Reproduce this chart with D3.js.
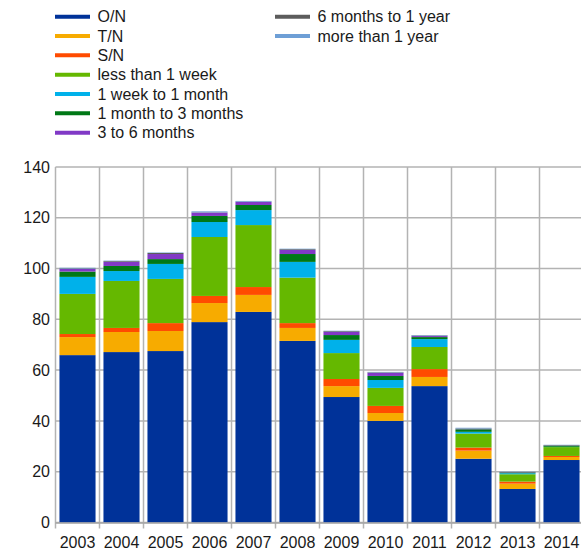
<!DOCTYPE html>
<html>
<head>
<meta charset="utf-8">
<script src="https://cdn.jsdelivr.net/npm/d3@7"></script>
<style>
  body { margin: 0; background: #fff; }
  text { font-family: 'Liberation Sans', Arial, sans-serif; fill: #1a1a1a; }
</style>
</head>
<body>
<div class="graph-container"></div>
<script>
// data
const years = ['2003', '2004', '2005', '2006', '2007', '2008', '2009', '2010', '2011', '2012', '2013', '2014'];
const seriesNames = ['O/N', 'T/N', 'S/N', 'less than 1 week', '1 week to 1 month',
  '1 month to 3 months', '3 to 6 months', '6 months to 1 year', 'more than 1 year'];
const on = [65.9, 67.1, 67.5, 78.9, 82.9, 71.5, 49.4, 40.0, 53.7, 25.1, 13.2, 24.6];
const tn = [7.1, 7.9, 7.9, 7.5, 6.7, 5.1, 4.3, 3.1, 3.6, 3.2, 2.1, 1.2];
const sn = [1.2, 1.6, 3.1, 2.8, 3.1, 1.9, 2.8, 2.8, 3.1, 1.2, 0.8, 0.4];
const lessWeek = [15.8, 18.5, 17.4, 23.2, 24.4, 17.9, 10.2, 7.1, 8.7, 5.5, 2.9, 3.5];
const weekMonth = [6.7, 3.9, 5.9, 5.9, 5.9, 6.2, 5.2, 3.1, 3.1, 0.7, 0.4, 0.1];
const month1to3 = [2.1, 2.0, 1.9, 2.4, 2.0, 3.1, 1.9, 1.6, 0.8, 1.0, 0.3, 0.5];
const month3to6 = [1.0, 1.6, 2.0, 1.3, 1.2, 1.6, 1.2, 1.2, 0.4, 0.1, 0.1, 0.1];
const month6to12 = [0.2, 0.3, 0.4, 0.1, 0.1, 0.3, 0.3, 0.2, 0.2, 0.2, 0.1, 0.1];
const overYear = [0.3, 0.2, 0.2, 0.4, 0.3, 0.2, 0.2, 0.2, 0.2, 0.3, 0.1, 0.1];
const yTicks = [0, 20, 40, 60, 80, 100, 120, 140];

const colors = ['#003299', '#f7ab00', '#ff4b00', '#65b800', '#00b1ea',
  '#007816', '#8139c6', '#5c5c5c', '#6e9fd6'];

// svg parameters
const w = 581;
const h = 554;

const svg = d3.select('.graph-container')
  .append('svg')
  .attr('width', w)
  .attr('height', h);

// build table for the stack
const columns = [on, tn, sn, lessWeek, weekMonth, month1to3, month3to6, month6to12, overYear];
const table = years.map((year, i) => {
  const row = { year };
  seriesNames.forEach((name, j) => { row[name] = columns[j][i]; });
  return row;
});
const stacked = d3.stack().keys(seriesNames)(table);

// scales
const xScale = d3.scaleBand(years, [55.5, 583.5])
  .paddingInner(0.18)
  .paddingOuter(0.09);
const yScale = d3.scaleLinear([0, 140], [522.5, 166.9]);
const step = xScale.step();
const edge = (d) => xScale(d) - (step - xScale.bandwidth()) / 2;

// horizontal grid
svg.append('g')
  .selectAll('line')
  .data(yTicks)
  .enter()
  .append('line')
  .attr('x1', 55.5)
  .attr('x2', w)
  .attr('y1', (d) => yScale(d))
  .attr('y2', (d) => yScale(d))
  .attr('stroke', '#b3b3b3')
  .attr('stroke-width', 1.5);

// vertical grid (band edges) running down as ticks
svg.append('g')
  .selectAll('line')
  .data(years)
  .enter()
  .append('line')
  .attr('x1', (d) => edge(d))
  .attr('x2', (d) => edge(d))
  .attr('y1', yScale(140))
  .attr('y2', yScale(0) + 6)
  .attr('stroke', '#b3b3b3')
  .attr('stroke-width', 1.5);

// bars
svg.append('g')
  .selectAll('g')
  .data(stacked)
  .enter()
  .append('g')
  .attr('fill', (d, i) => colors[i])
  .selectAll('rect')
  .data((d) => d)
  .enter()
  .append('rect')
  .attr('x', (d) => xScale(d.data.year))
  .attr('width', xScale.bandwidth())
  .attr('y', (d) => yScale(d[1]))
  .attr('height', (d) => yScale(d[0]) - yScale(d[1]));

// bottom axis line
svg.append('line')
  .attr('x1', 55.5)
  .attr('x2', w)
  .attr('y1', yScale(0) + 0.5)
  .attr('y2', yScale(0) + 0.5)
  .attr('stroke', '#a6a6a6')
  .attr('stroke-width', 1.5);

// tick labels
svg.append('g')
  .selectAll('text')
  .data(yTicks)
  .enter()
  .append('text')
  .attr('x', 50)
  .attr('y', (d) => yScale(d))
  .attr('dy', '0.35em')
  .attr('text-anchor', 'end')
  .style('font-size', '16px')
  .text((d) => d);

svg.append('g')
  .selectAll('text')
  .data(years)
  .enter()
  .append('text')
  .attr('x', (d) => xScale(d) + xScale.bandwidth() / 2)
  .attr('y', 542.5)
  .attr('dy', '0.35em')
  .attr('text-anchor', 'middle')
  .style('font-size', '16px')
  .text((d) => d);

// legend
const legend = svg.append('g')
  .selectAll('g')
  .data(seriesNames)
  .enter()
  .append('g')
  .attr('transform', (d, i) => (i < 7
    ? `translate(55, ${16.7 + i * 19.33})`
    : `translate(275, ${16.7 + (i - 7) * 19.33})`));

legend.append('line')
  .attr('x1', 0)
  .attr('x2', 35)
  .attr('stroke', (d, i) => colors[i])
  .attr('stroke-width', 4);

legend.append('text')
  .attr('x', 42.5)
  .attr('dy', '0.35em')
  .style('font-size', '16px')
  .text((d) => d);
</script>
</body>
</html>
